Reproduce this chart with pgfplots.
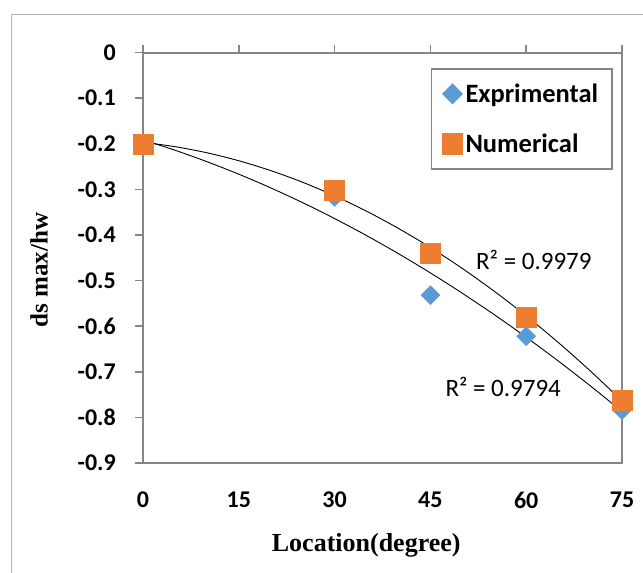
\documentclass[border=0pt]{standalone}
\usepackage{fontspec}
\setmainfont{Carlito}
\newfontfamily\tnr{Liberation Serif}
\usepackage{pgfplots}
\pgfplotsset{compat=1.18}
\definecolor{expblue}{HTML}{5B9BD5}
\definecolor{numorange}{HTML}{ED7D31}
\definecolor{axgray}{HTML}{868686}
\begin{document}
\begin{tikzpicture}
\useasboundingbox (0,0) rectangle (643pt,573pt);
\draw[color=axgray!60, line width=1pt] (11pt,0pt) -- (11pt,558pt) -- (643pt,558pt);
\begin{axis}[
  at={(143pt,110pt)}, anchor=south west,
  scale only axis, width=479pt, height=410.5pt,
  xmin=0, xmax=75, ymin=-0.9, ymax=0,
  clip=false,
  xtick={0,15,30,45,60,75},
  xticklabels={0,15,30,45,60,75},
  ytick={-0.9,-0.8,-0.7,-0.6,-0.5,-0.4,-0.3,-0.2,-0.1,0},
  yticklabels={-0.9,-0.8,-0.7,-0.6,-0.5,-0.4,-0.3,-0.2,-0.1,0},
  xtick pos=upper, xticklabel pos=lower,
  ytick pos=left,
  tick align=outside,
  major tick length=8pt,
  tick style={axgray, line width=1.5pt},
  axis line style={axgray, line width=2pt},
  tick label style={font=\fontsize{24}{26}\selectfont\bfseries},
  xticklabel style={anchor=center, yshift=-29pt},
  yticklabel style={anchor=east, inner sep=0pt, xshift=-19pt},
  xlabel={\tnr\bfseries Location(degree)},
  xlabel style={font=\fontsize{26}{28}\selectfont, at={(axis description cs:0.466,-0.2)}, anchor=center},
  ylabel={\tnr\bfseries ds max/hw},
  ylabel style={font=\fontsize{25}{27}\selectfont, at={(axis description cs:-0.217,0.47)}, anchor=center},
  legend style={at={(0.981,0.962)}, anchor=north east, draw=axgray, line width=1.5pt,
    font=\fontsize{26.5}{28}\selectfont\bfseries, inner xsep=11pt, inner ysep=12pt,
    row sep=24pt, nodes={inner sep=3pt}},
  legend cell align=left,
  legend image code/.code={\draw[#1] plot coordinates {(0pt,0pt)};},
]
\addplot[only marks, mark=square*, mark size=6.7pt, color=expblue, mark options={rotate=45, draw=none, fill=expblue}]
  coordinates {(0,-0.205) (30,-0.317) (45,-0.532) (60,-0.622) (75,-0.784)};
\addlegendentry{Exprimental}
\addplot[only marks, mark=square*, mark size=10pt, color=numorange, mark options={draw=none, fill=numorange}]
  coordinates {(0,-0.2) (30,-0.302) (45,-0.441) (60,-0.580) (75,-0.762)};
\addlegendentry{Numerical}
% polynomial (order 2) trendlines, sampled
\addplot[black, line width=0.9pt, smooth, forget plot] coordinates {
(0,-0.1970) (5,-0.2064) (10,-0.2198) (15,-0.2373) (20,-0.2589) (25,-0.2845) (30,-0.3142) (35,-0.3479)
(40,-0.3857) (45,-0.4275) (50,-0.4735) (55,-0.5234) (60,-0.5774) (65,-0.6355) (70,-0.6977) (75,-0.7639)};
\addplot[black, line width=0.9pt, smooth, forget plot] coordinates {
(0,-0.1915) (5,-0.2142) (10,-0.2393) (15,-0.2668) (20,-0.2968) (25,-0.3292) (30,-0.3641) (35,-0.4013)
(40,-0.4411) (45,-0.4832) (50,-0.5278) (55,-0.5748) (60,-0.6242) (65,-0.6761) (70,-0.7304) (75,-0.7870)};
\node[font=\fontsize{25}{27}\selectfont, anchor=center] at (axis cs:61.2,-0.455) {R² = 0.9979};
\node[font=\fontsize{25}{27}\selectfont, anchor=center] at (axis cs:56.4,-0.733) {R² = 0.9794};
\end{axis}
\end{tikzpicture}
\end{document}
